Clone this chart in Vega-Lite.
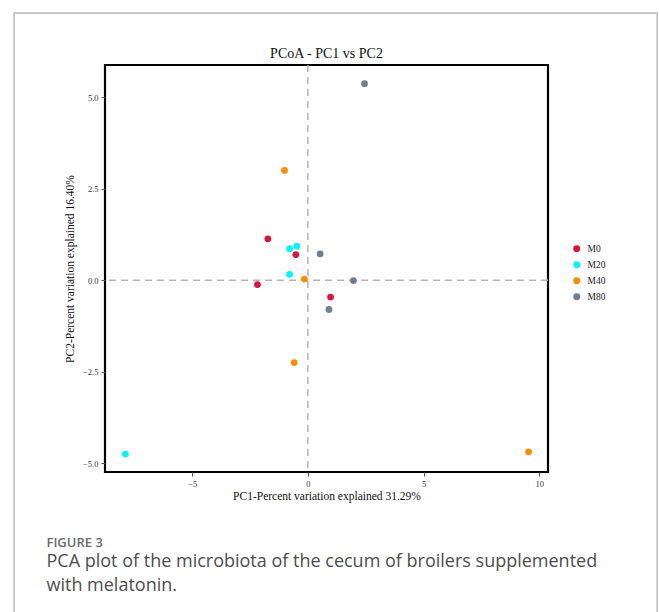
{
  "$schema": "https://vega.github.io/schema/vega-lite/v6.json",
  "width": 443,
  "height": 407,
  "autosize": {"type": "none"},
  "padding": {"left": 105, "top": 65, "right": 111, "bottom": 140},
  "background": "white",
  "title": {
    "text": "PCoA - PC1 vs PC2",
    "font": "Liberation Serif",
    "fontSize": 14,
    "fontWeight": "normal",
    "color": "#111111",
    "anchor": "middle",
    "frame": "group",
    "baseline": "alphabetic",
    "offset": -59.5
  },
  "config": {
    "view": {"stroke": "#000000", "strokeWidth": 2.2},
    "axis": {
      "domain": false,
      "grid": false,
      "ticks": true,
      "tickColor": "#555555",
      "tickSize": 4,
      "labelFont": "Liberation Serif",
      "labelFontSize": 8.5,
      "labelColor": "#333333",
      "titleFont": "Liberation Serif",
      "titleFontSize": 11.5,
      "titleFontWeight": "normal",
      "titleColor": "#111111"
    }
  },
  "layer": [
    {
      "data": {"values": [{}]},
      "mark": {"type": "rect", "clip": false, "fill": "white", "fillOpacity": 0, "stroke": "#bbbbbb", "strokeWidth": 1.5},
      "encoding": {
        "x": {"datum": -12.70, "scale": {"domain": [-8.77, 10.38], "nice": false, "zero": false}},
        "x2": {"datum": 15.10},
        "y": {"datum": 7.30, "scale": {"domain": [-5.24, 5.88], "nice": false, "zero": false}},
        "y2": {"datum": -9.6}
      }
    },
    {
      "data": {"values": [{}]},
      "mark": {"type": "rule", "color": "#b3b3b3", "strokeDash": [7, 5], "strokeWidth": 1.5},
      "encoding": {
        "x": {"datum": 0, "scale": {"domain": [-8.77, 10.38], "nice": false, "zero": false}}
      }
    },
    {
      "data": {"values": [{}]},
      "mark": {"type": "rule", "color": "#b3b3b3", "strokeDash": [7, 5], "strokeWidth": 1.5},
      "encoding": {
        "y": {"datum": 0, "scale": {"domain": [-5.24, 5.88], "nice": false, "zero": false}}
      }
    },
    {
      "data": {
        "values": [
          {"group": "M0", "PC1": -1.73, "PC2": 1.13},
          {"group": "M0", "PC1": -0.52, "PC2": 0.70},
          {"group": "M0", "PC1": -2.18, "PC2": -0.12},
          {"group": "M0", "PC1": 0.98, "PC2": -0.46},
          {"group": "M20", "PC1": -0.79, "PC2": 0.86},
          {"group": "M20", "PC1": -0.48, "PC2": 0.93},
          {"group": "M20", "PC1": -0.79, "PC2": 0.16},
          {"group": "M20", "PC1": -7.89, "PC2": -4.75},
          {"group": "M40", "PC1": -1.01, "PC2": 3.00},
          {"group": "M40", "PC1": -0.15, "PC2": 0.03},
          {"group": "M40", "PC1": -0.59, "PC2": -2.25},
          {"group": "M40", "PC1": 9.54, "PC2": -4.69},
          {"group": "M80", "PC1": 0.53, "PC2": 0.72},
          {"group": "M80", "PC1": 1.97, "PC2": -0.01},
          {"group": "M80", "PC1": 0.91, "PC2": -0.80},
          {"group": "M80", "PC1": 2.45, "PC2": 5.37}
        ]
      },
      "mark": {"type": "circle", "size": 46, "opacity": 1},
      "encoding": {
        "x": {
          "field": "PC1",
          "type": "quantitative",
          "scale": {"domain": [-8.77, 10.38], "nice": false, "zero": false},
          "axis": {
            "title": "PC1-Percent variation explained 31.29%",
            "values": [-5, 0, 5, 10],
            "format": "d",
            "labelPadding": 3,
            "titlePadding": 3
          }
        },
        "y": {
          "field": "PC2",
          "type": "quantitative",
          "scale": {"domain": [-5.24, 5.88], "nice": false, "zero": false},
          "axis": {
            "title": "PC2-Percent variation explained 16.40%",
            "values": [-5, -2.5, 0, 2.5, 5],
            "format": ".1f",
            "labelPadding": 3,
            "titlePadding": 7
          }
        },
        "color": {
          "field": "group",
          "type": "nominal",
          "scale": {
            "domain": ["M0", "M20", "M40", "M80"],
            "range": ["#DC143C", "#00F5FF", "#FF8C00", "#6E7F8E"]
          },
          "legend": {
            "title": null,
            "orient": "none",
            "legendX": 467,
            "legendY": 179,
            "symbolType": "circle",
            "symbolSize": 48,
            "symbolStrokeWidth": 0,
            "labelFont": "Liberation Serif",
            "labelFontSize": 9.5,
            "labelColor": "#222222",
            "rowPadding": 5,
            "labelOffset": 6,
            "padding": 0
          }
        }
      }
    },
    {
      "data": {"values": [{}]},
      "mark": {"type": "text", "clip": false, "text": "FIGURE 3", "align": "left", "baseline": "alphabetic", "font": "Open Sans", "fontSize": 13, "fontWeight": 600, "color": "#6b6b6b"},
      "encoding": {
        "x": {"datum": -11.30, "scale": {"domain": [-8.77, 10.38], "nice": false, "zero": false}},
        "y": {"datum": -7.30, "scale": {"domain": [-5.24, 5.88], "nice": false, "zero": false}}
      }
    },
    {
      "data": {"values": [{}]},
      "mark": {"type": "text", "clip": false, "text": ["PCA plot of the microbiota of the cecum of broilers supplemented", "with melatonin."], "lineHeight": 24, "align": "left", "baseline": "alphabetic", "font": "Open Sans", "fontSize": 18, "fontWeight": "normal", "color": "#4d4d4d"},
      "encoding": {
        "x": {"datum": -11.30, "scale": {"domain": [-8.77, 10.38], "nice": false, "zero": false}},
        "y": {"datum": -7.84, "scale": {"domain": [-5.24, 5.88], "nice": false, "zero": false}}
      }
    }
  ]
}
